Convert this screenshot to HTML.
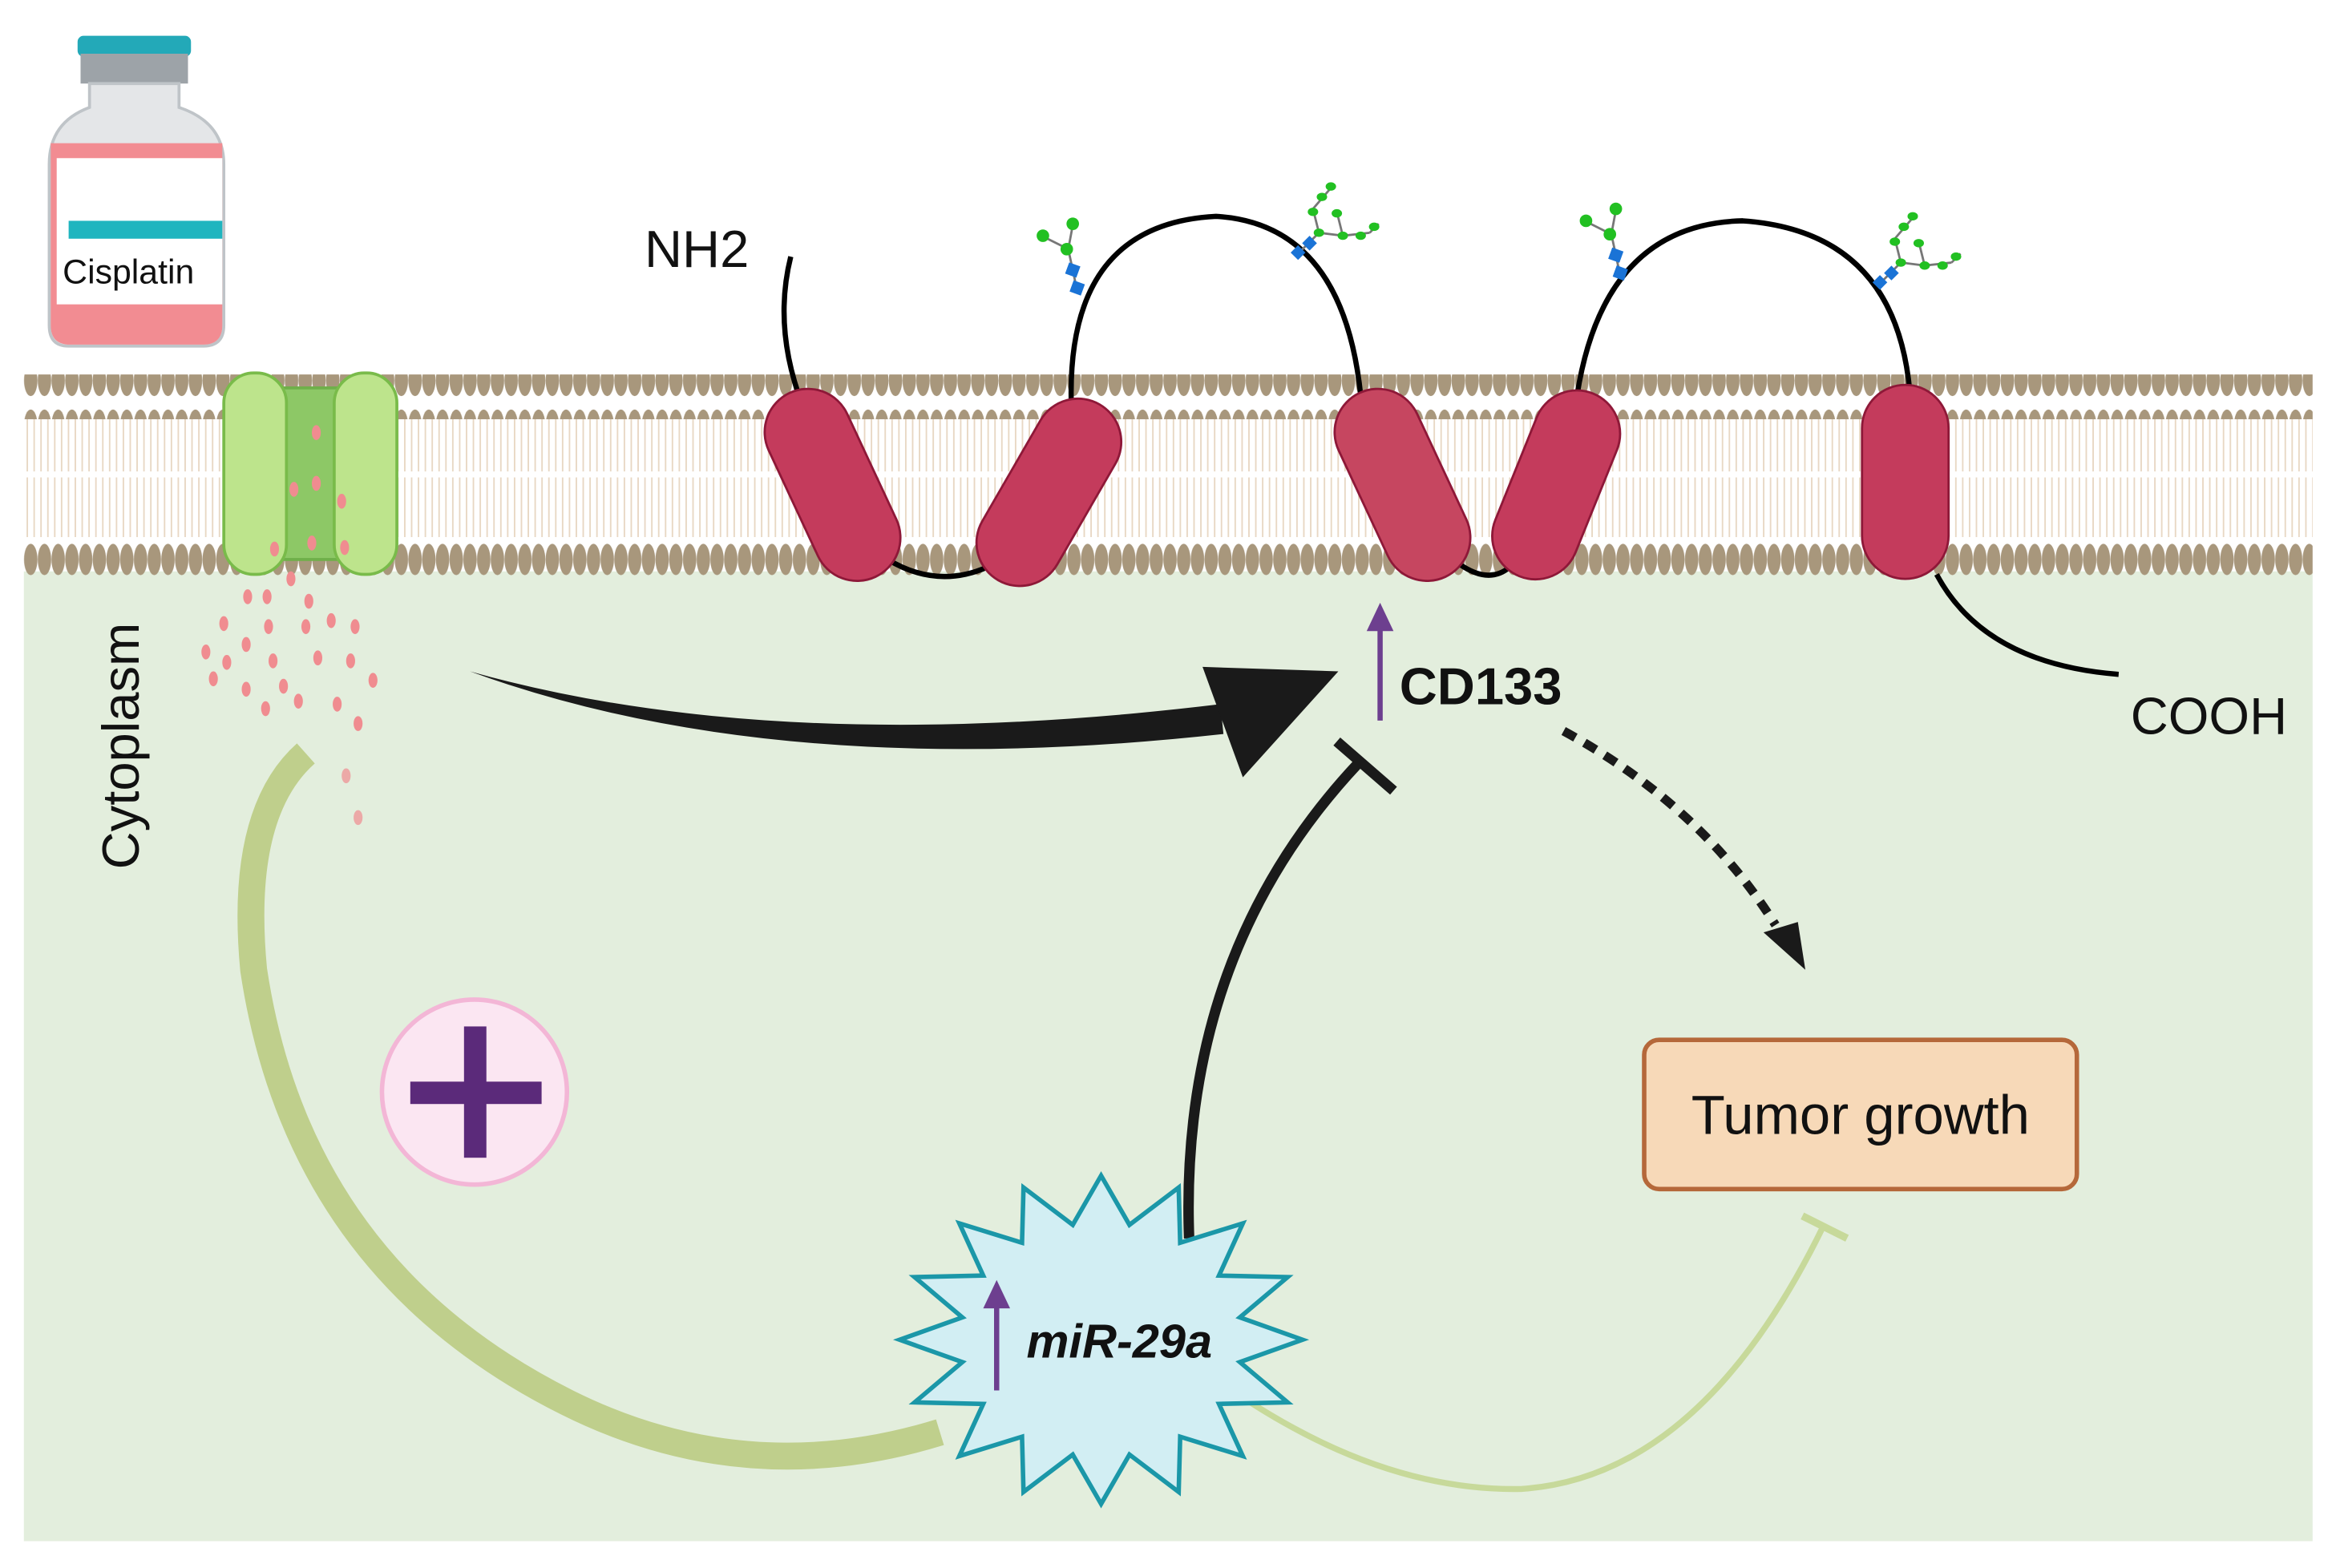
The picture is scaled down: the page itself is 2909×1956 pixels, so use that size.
<!DOCTYPE html>
<html><head><meta charset="utf-8"><style>
html,body{margin:0;padding:0;background:#fff;}
svg{display:block;}
text{font-family:"Liberation Sans",sans-serif;}
</style></head><body>
<svg width="2909" height="1956" viewBox="0 0 1563 1051" preserveAspectRatio="none" xmlns="http://www.w3.org/2000/svg">
<defs>
<pattern id="heads" x="16" y="0" width="9.2" height="30" patternUnits="userSpaceOnUse">
<ellipse cx="4.6" cy="15" rx="4.5" ry="10.5" fill="#a8977c"/>
</pattern>
<pattern id="tails" x="16" y="0" width="4.6" height="40" patternUnits="userSpaceOnUse">
<line x1="2.3" y1="0" x2="2.3" y2="40" stroke="#e8d7c3" stroke-width="1"/>
</pattern>
<g id="gly1">
<line x1="0" y1="0" x2="-6" y2="-28" stroke="#777" stroke-width="1.5"/>
<line x1="-6" y1="-28" x2="-22" y2="-36" stroke="#777" stroke-width="1.5"/>
<line x1="-6" y1="-28" x2="-3" y2="-44" stroke="#777" stroke-width="1.5"/>
<rect x="-4" y="-6" width="8" height="8" fill="#1a73d6" transform="rotate(20 0 -2)"/>
<rect x="-7" y="-18" width="8" height="8" fill="#1a73d6" transform="rotate(20 -3 -14)"/>
<circle cx="-7" cy="-28" r="4.2" fill="#22c022"/>
<circle cx="-23" cy="-37" r="4.2" fill="#22c022"/>
<circle cx="-3" cy="-45" r="4.2" fill="#22c022"/>
</g>
<g id="gly2">
<line x1="0" y1="0" x2="14" y2="-14" stroke="#777" stroke-width="1.5"/>
<line x1="14" y1="-14" x2="10" y2="-30" stroke="#777" stroke-width="1.5"/>
<line x1="10" y1="-30" x2="22" y2="-44" stroke="#777" stroke-width="1.5"/>
<line x1="14" y1="-14" x2="30" y2="-12" stroke="#777" stroke-width="1.5"/>
<line x1="30" y1="-12" x2="26" y2="-28" stroke="#777" stroke-width="1.5"/>
<line x1="30" y1="-12" x2="48" y2="-14" stroke="#777" stroke-width="1.5"/>
<line x1="48" y1="-14" x2="54" y2="-20" stroke="#777" stroke-width="1.5"/>
<rect x="-3" y="-4" width="7" height="7" fill="#1a73d6" transform="rotate(-45 0 0)"/>
<rect x="4" y="-10" width="7" height="7" fill="#1a73d6" transform="rotate(-45 7 -7)"/>
<ellipse cx="14" cy="-14" rx="3.5" ry="2.8" fill="#22c022"/>
<ellipse cx="10" cy="-28" rx="3.5" ry="2.8" fill="#22c022"/>
<ellipse cx="16" cy="-38" rx="3.5" ry="2.8" fill="#22c022"/>
<ellipse cx="22" cy="-45" rx="3.5" ry="2.8" fill="#22c022"/>
<ellipse cx="30" cy="-12" rx="3.5" ry="2.8" fill="#22c022"/>
<ellipse cx="26" cy="-27" rx="3.5" ry="2.8" fill="#22c022"/>
<ellipse cx="42" cy="-12" rx="3.5" ry="2.8" fill="#22c022"/>
<ellipse cx="51" cy="-18" rx="3.5" ry="2.8" fill="#22c022"/>
</g>
</defs>
<rect x="0" y="0" width="1563" height="1051" fill="#fff"/>
<rect x="16" y="383" width="1534" height="650" fill="#e3eedd"/>
<rect x="16" y="276" width="1534" height="40" fill="url(#tails)"/>
<rect x="16" y="320" width="1534" height="40" fill="url(#tails)"/>
<rect x="16" y="251" width="1534" height="30" fill="url(#heads)"/>
<rect x="16" y="356" width="1534" height="30" fill="url(#heads)"/>
<rect x="185" y="260" width="48" height="115" fill="#8dc866" stroke="#6fb04a" stroke-width="2"/>
<rect x="150" y="250" width="42" height="135" rx="20" fill="#bde48c" stroke="#79bb4a" stroke-width="2"/>
<rect x="224" y="250" width="42" height="135" rx="20" fill="#bde48c" stroke="#79bb4a" stroke-width="2"/>
<g fill="#f08c90">
<ellipse cx="212" cy="290" rx="3" ry="5"/><ellipse cx="197" cy="328" rx="3" ry="5"/><ellipse cx="212" cy="324" rx="3" ry="5"/>
<ellipse cx="229" cy="336" rx="3" ry="5"/><ellipse cx="184" cy="368" rx="3" ry="5"/><ellipse cx="209" cy="364" rx="3" ry="5"/><ellipse cx="231" cy="367" rx="3" ry="5"/>
<ellipse cx="195" cy="388" rx="3" ry="5"/><ellipse cx="166" cy="400" rx="3" ry="5"/><ellipse cx="179" cy="400" rx="3" ry="5"/><ellipse cx="207" cy="403" rx="3" ry="5"/>
<ellipse cx="150" cy="418" rx="3" ry="5"/><ellipse cx="180" cy="420" rx="3" ry="5"/><ellipse cx="205" cy="420" rx="3" ry="5"/><ellipse cx="222" cy="416" rx="3" ry="5"/><ellipse cx="238" cy="420" rx="3" ry="5"/>
<ellipse cx="138" cy="437" rx="3" ry="5"/><ellipse cx="165" cy="432" rx="3" ry="5"/><ellipse cx="152" cy="444" rx="3" ry="5"/><ellipse cx="183" cy="443" rx="3" ry="5"/><ellipse cx="213" cy="441" rx="3" ry="5"/><ellipse cx="235" cy="443" rx="3" ry="5"/><ellipse cx="250" cy="456" rx="3" ry="5"/>
<ellipse cx="143" cy="455" rx="3" ry="5"/><ellipse cx="165" cy="462" rx="3" ry="5"/><ellipse cx="190" cy="460" rx="3" ry="5"/><ellipse cx="178" cy="475" rx="3" ry="5"/><ellipse cx="200" cy="470" rx="3" ry="5"/><ellipse cx="226" cy="472" rx="3" ry="5"/><ellipse cx="240" cy="485" rx="3" ry="5"/>
<ellipse cx="232" cy="520" rx="3" ry="5" opacity=".7"/><ellipse cx="240" cy="548" rx="3" ry="5" opacity=".7"/>
</g>
<rect x="52" y="24" width="76" height="14" rx="4" fill="#23a9b8"/>
<rect x="54" y="36" width="72" height="20" fill="#9da3a8"/>
<path d="M60 56 H120 V72 Q150 82 150 110 V218 Q150 232 136 232 H46 Q33 232 33 218 V110 Q33 82 60 72 Z" fill="#e4e6e8" stroke="#bfc4c8" stroke-width="2"/>
<path d="M34 96 H149 V218 Q149 231 136 231 H47 Q34 231 34 218 Z" fill="#f28c92"/>
<rect x="38" y="106" width="111" height="98" fill="#fff"/>
<rect x="46" y="148" width="103" height="12" fill="#1fb5bf"/>
<text x="42" y="190" font-size="23" fill="#111">Cisplatin</text>
<g fill="none" stroke="#000" stroke-width="3.5">
<path d="M530 172 Q518 220 538 272"/>
<path d="M718 270 Q715 150 815 145 Q900 150 912 265"/>
<path d="M1057 265 Q1075 150 1168 148 Q1270 155 1280 262"/>
<path d="M595 375 Q628 395 662 380"/>
<path d="M978 378 Q998 392 1012 380"/>
<path d="M1298 385 Q1330 445 1420 452"/>
</g>
<use href="#gly1" x="722" y="195"/>
<use href="#gly2" x="870" y="170"/>
<use href="#gly1" x="1086" y="185"/>
<use href="#gly2" x="1260" y="190"/>
<g stroke="#8e1838" stroke-width="1.5">
<g transform="rotate(-25 558 325)"><rect x="529" y="257" width="58" height="136" rx="29" fill="#c43b5c"/></g>
<g transform="rotate(30 703 330)"><rect x="674" y="262" width="58" height="136" rx="29" fill="#c43b5c"/></g>
<g transform="rotate(-25 940 325)"><rect x="911" y="257" width="58" height="136" rx="29" fill="#c64660"/></g>
<g transform="rotate(22 1043 325)"><rect x="1014" y="259" width="58" height="132" rx="29" fill="#c43b5c"/></g>
<rect x="1248" y="258" width="58" height="130" rx="29" fill="#c43b5c"/>
</g>
<text x="432" y="179" font-size="35" fill="#111">NH2</text>
<text x="1428" y="492" font-size="35" fill="#111">COOH</text>
<text x="938" y="472" font-size="35" font-weight="bold" fill="#111">CD133</text>
<text transform="translate(93 500) rotate(-90)" text-anchor="middle" font-size="35" fill="#111">Cytoplasm</text>
<line x1="925" y1="483" x2="925" y2="420" stroke="#6d3f8f" stroke-width="3.5"/>
<polygon points="925,404 916,423 934,423" fill="#6d3f8f"/>
<path d="M315 450 Q520 525 820 492 L818 472 Q520 508 315 450 Z" fill="#1a1a1a"/>
<polygon points="897,450 806,447 833,521" fill="#1a1a1a"/>
<path d="M797 830 Q790 640 910 512" fill="none" stroke="#1a1a1a" stroke-width="7"/>
<line x1="896" y1="497" x2="934" y2="530" stroke="#1a1a1a" stroke-width="7"/>
<path d="M1048 490 Q1140 540 1190 620" fill="none" stroke="#1a1a1a" stroke-width="6" stroke-dasharray="9 7"/>
<polygon points="1210,650 1182,625 1205,618" fill="#1a1a1a"/>
<rect x="1102" y="697" width="290" height="100" rx="10" fill="#f7d9b8" stroke="#b5683a" stroke-width="3"/>
<text x="1247" y="760" text-anchor="middle" font-size="37" fill="#111">Tumor growth</text>
<path d="M205 505 Q160 545 170 650 Q200 850 380 940 Q500 1000 630 960" fill="none" stroke="#bfcf8c" stroke-width="18"/>
<path d="M835 938 Q930 1000 1020 998 Q1140 990 1222 822" fill="none" stroke="#c7d99a" stroke-width="4"/>
<line x1="1208" y1="815" x2="1238" y2="830" stroke="#c7d99a" stroke-width="5"/>
<circle cx="318" cy="732" r="62" fill="#fbe6f2" stroke="#f3b6d6" stroke-width="3"/>
<rect x="311" y="688" width="15" height="88" fill="#5b2a7a"/>
<rect x="275" y="725" width="88" height="15" fill="#5b2a7a"/>
<polygon points="873,898 831,913 863,940 817,941 833,976 791,963 790,1000 757,975 738,1008 719,975 686,1000 685,963 643,976 659,941 613,940 645,913 603,898 645,883 613,856 659,855 643,820 685,833 686,796 719,821 738,788 757,821 790,796 791,833 833,820 817,855 863,856 831,883" fill="#d2eef3" stroke="#1b97a8" stroke-width="3"/>
<text x="688" y="910" font-size="32" font-weight="bold" font-style="italic" fill="#111">miR-29a</text>
<line x1="668" y1="932" x2="668" y2="874" stroke="#6d3f8f" stroke-width="3.5"/>
<polygon points="668,858 659,877 677,877" fill="#6d3f8f"/>
</svg>
</body></html>
